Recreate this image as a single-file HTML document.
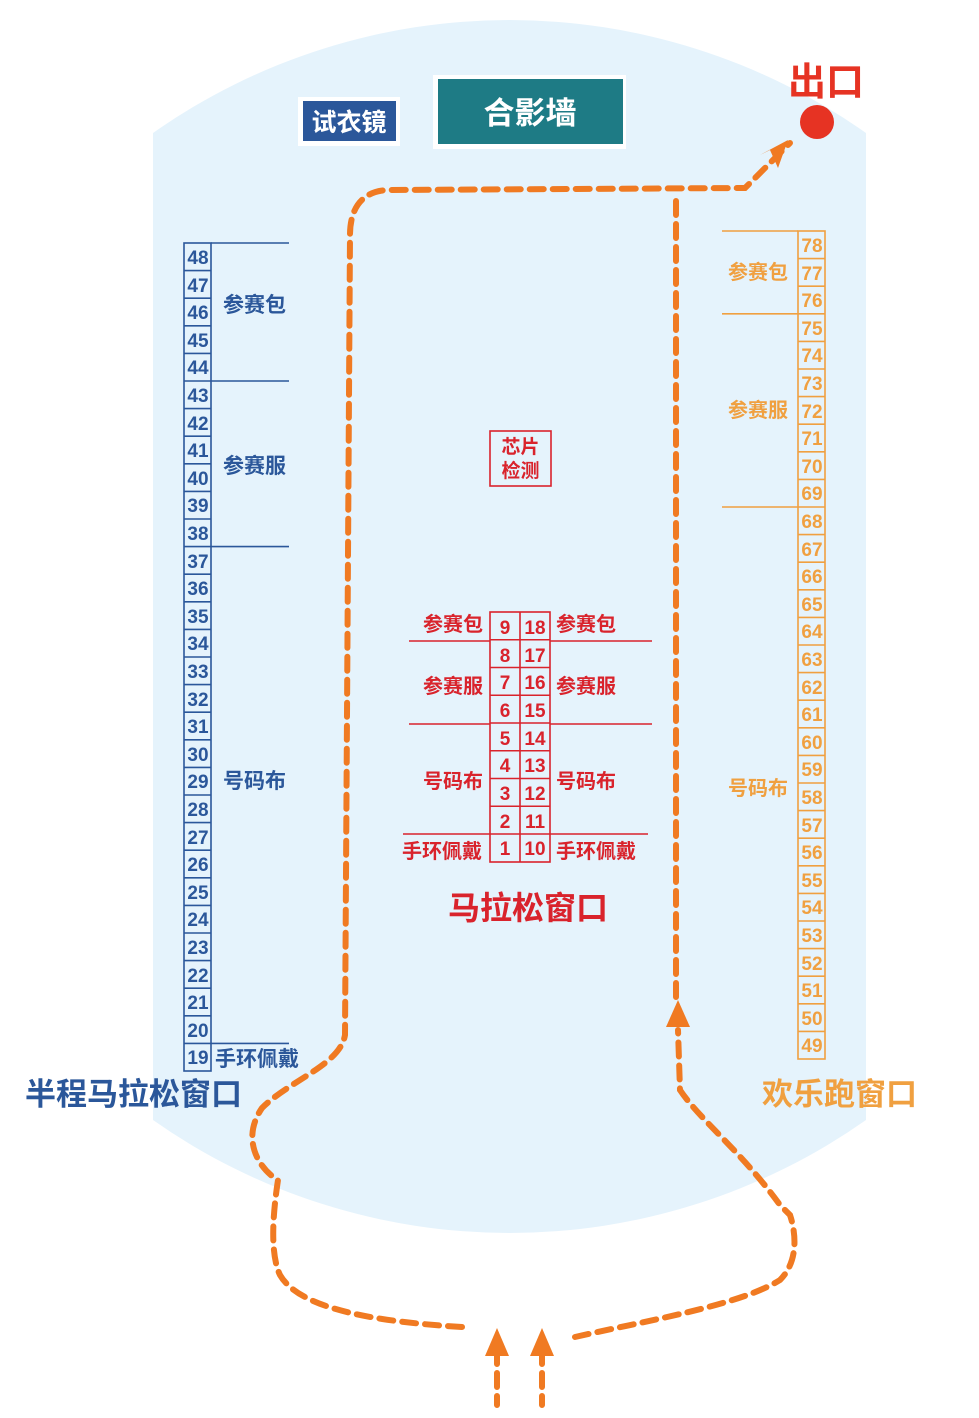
<!DOCTYPE html>
<html><head><meta charset="utf-8"><style>
html,body{margin:0;padding:0;background:#fff;}
svg{display:block;}
.bn{font-family:"Liberation Sans Narrow","Liberation Sans",sans-serif;font-weight:bold;font-size:19px;text-anchor:middle;}
.cj{font-family:"Liberation Sans","Noto Sans CJK SC",sans-serif;font-weight:bold;}
</style></head><body>
<svg width="979" height="1418" viewBox="0 0 979 1418" xmlns="http://www.w3.org/2000/svg">
<path d="M153,133 A619,619 0 0 1 866,133 L866,1120 A619,619 0 0 1 153,1120 Z" fill="#e5f3fc"/>

<!-- top boxes -->
<rect x="298" y="97" width="102" height="49" fill="#fff"/>
<rect x="303" y="101" width="93" height="40" fill="#2b579a"/>
<text x="349" y="131" class="cj" font-size="25" fill="#fff" text-anchor="middle">试衣镜</text>
<rect x="433" y="75" width="193" height="74" fill="#fff"/>
<rect x="438" y="79" width="185" height="65" fill="#1e7b85"/>
<text x="530" y="124" class="cj" font-size="31" fill="#fff" text-anchor="middle">合影墙</text>
<text x="826" y="95" class="cj" font-size="38" fill="#e63323" text-anchor="middle">出口</text>
<circle cx="817" cy="122" r="17" fill="#e63323"/>

<!-- dashed route -->
<g fill="none" stroke="#f07a22" stroke-width="6" stroke-dasharray="14 9" stroke-linecap="round">
<path d="M462,1327 C380,1322 300,1310 280,1275 C268,1250 275,1200 278,1180 C260,1170 240,1140 262,1108 C290,1080 340,1065 345,1035 L350,235 C350,205 365,190 390,190 L745,188 L790,143"/>
<path d="M676,997 L676,195"/>
<path d="M575,1337 C650,1320 740,1305 780,1280 C800,1260 795,1230 790,1215 L780,1205 C740,1150 700,1120 680,1090 L678,1030"/>
<path d="M497,1350 L497,1405"/>
<path d="M542,1350 L542,1405"/>
</g>
<g fill="#f07a22">
<polygon points="788,140 778,168 770,150 760,155"/>
<polygon points="678,1000 666,1027 690,1027"/>
<polygon points="497,1328 485,1356 509,1356"/>
<polygon points="542,1328 530,1356 554,1356"/>
</g>

<!-- left table -->
<g stroke="#2b579a" stroke-width="1.6" fill="none">
<rect x="184" y="243" width="27" height="828"/>
<line x1="211" y1="243" x2="289" y2="243"/><line x1="211" y1="381" x2="289" y2="381"/>
<line x1="211" y1="546.6" x2="289" y2="546.6"/><line x1="211" y1="1043.4" x2="289" y2="1043.4"/>
<path d="M184,270.6H211M184,298.2H211M184,325.8H211M184,353.4H211M184,381H211M184,408.6H211M184,436.2H211M184,463.8H211M184,491.4H211M184,519H211M184,546.6H211M184,574.2H211M184,601.8H211M184,629.4H211M184,657H211M184,684.6H211M184,712.2H211M184,739.8H211M184,767.4H211M184,795H211M184,822.6H211M184,850.2H211M184,877.8H211M184,905.4H211M184,933H211M184,960.6H211M184,988.2H211M184,1015.8H211M184,1043.4H211"/>
</g>
<g class="bn" fill="#2b579a">
<text x="198" y="264">48</text><text x="198" y="292">47</text><text x="198" y="319">46</text><text x="198" y="347">45</text><text x="198" y="374">44</text><text x="198" y="402">43</text><text x="198" y="430">42</text><text x="198" y="457">41</text><text x="198" y="485">40</text><text x="198" y="512">39</text><text x="198" y="540">38</text><text x="198" y="568">37</text><text x="198" y="595">36</text><text x="198" y="623">35</text><text x="198" y="650">34</text><text x="198" y="678">33</text><text x="198" y="706">32</text><text x="198" y="733">31</text><text x="198" y="761">30</text><text x="198" y="788">29</text><text x="198" y="816">28</text><text x="198" y="844">27</text><text x="198" y="871">26</text><text x="198" y="899">25</text><text x="198" y="926">24</text><text x="198" y="954">23</text><text x="198" y="982">22</text><text x="198" y="1009">21</text><text x="198" y="1037">20</text><text x="198" y="1064">19</text>
</g>
<g class="cj" fill="#2b579a" font-size="21">
<text x="223" y="312">参赛包</text><text x="223" y="473">参赛服</text><text x="223" y="788">号码布</text><text x="215" y="1066">手环佩戴</text>
</g>
<text x="25" y="1105" class="cj" font-size="31" fill="#2b579a">半程马拉松窗口</text>

<!-- right table -->
<g stroke="#f0a040" stroke-width="1.6" fill="none">
<rect x="798" y="231" width="27" height="828"/>
<line x1="722" y1="231" x2="798" y2="231"/><line x1="722" y1="313.8" x2="798" y2="313.8"/><line x1="722" y1="507" x2="798" y2="507"/>
<path d="M798,258.6H825M798,286.2H825M798,313.8H825M798,341.4H825M798,369H825M798,396.6H825M798,424.2H825M798,451.8H825M798,479.4H825M798,507H825M798,534.6H825M798,562.2H825M798,589.8H825M798,617.4H825M798,645H825M798,672.6H825M798,700.2H825M798,727.8H825M798,755.4H825M798,783H825M798,810.6H825M798,838.2H825M798,865.8H825M798,893.4H825M798,921H825M798,948.6H825M798,976.2H825M798,1003.8H825M798,1031.4H825"/>
</g>
<g class="bn" fill="#f0a040">
<text x="812" y="252">78</text><text x="812" y="280">77</text><text x="812" y="307">76</text><text x="812" y="335">75</text><text x="812" y="362">74</text><text x="812" y="390">73</text><text x="812" y="418">72</text><text x="812" y="445">71</text><text x="812" y="473">70</text><text x="812" y="500">69</text><text x="812" y="528">68</text><text x="812" y="556">67</text><text x="812" y="583">66</text><text x="812" y="611">65</text><text x="812" y="638">64</text><text x="812" y="666">63</text><text x="812" y="694">62</text><text x="812" y="721">61</text><text x="812" y="749">60</text><text x="812" y="776">59</text><text x="812" y="804">58</text><text x="812" y="832">57</text><text x="812" y="859">56</text><text x="812" y="887">55</text><text x="812" y="914">54</text><text x="812" y="942">53</text><text x="812" y="970">52</text><text x="812" y="997">51</text><text x="812" y="1025">50</text><text x="812" y="1052">49</text>
</g>
<g class="cj" fill="#f0a040" font-size="20">
<text x="728" y="279">参赛包</text><text x="728" y="417">参赛服</text><text x="728" y="795">号码布</text>
</g>
<text x="762" y="1105" class="cj" font-size="31" fill="#f0a040">欢乐跑窗口</text>

<!-- center -->
<rect x="490" y="431" width="61" height="55" fill="none" stroke="#d9232c" stroke-width="1.6"/>
<text x="520.5" y="453" class="cj" font-size="19" fill="#d9232c" text-anchor="middle">芯片</text>
<text x="520.5" y="477" class="cj" font-size="19" fill="#d9232c" text-anchor="middle">检测</text>
<g stroke="#d9232c" stroke-width="1.6" fill="none">
<rect x="490" y="612" width="60" height="250"/>
<line x1="520" y1="612" x2="520" y2="862"/>
<path d="M490,639.75H550M490,667.5H550M490,695.25H550M490,723H550M490,750.75H550M490,778.5H550M490,806.25H550M490,834H550"/>
<line x1="409" y1="641" x2="490" y2="641"/><line x1="550" y1="641" x2="652" y2="641"/>
<line x1="409" y1="724" x2="490" y2="724"/><line x1="550" y1="724" x2="652" y2="724"/>
<line x1="403" y1="834" x2="490" y2="834"/><line x1="550" y1="834" x2="648" y2="834"/>
</g>
<g class="bn" fill="#d9232c">
<text x="505" y="634">9</text><text x="505" y="662">8</text><text x="505" y="689">7</text><text x="505" y="717">6</text><text x="505" y="745">5</text><text x="505" y="772">4</text><text x="505" y="800">3</text><text x="505" y="828">2</text><text x="505" y="855">1</text>
<text x="535" y="634">18</text><text x="535" y="662">17</text><text x="535" y="689">16</text><text x="535" y="717">15</text><text x="535" y="745">14</text><text x="535" y="772">13</text><text x="535" y="800">12</text><text x="535" y="828">11</text><text x="535" y="855">10</text>
</g>
<g class="cj" fill="#d9232c" font-size="20">
<text x="423" y="631">参赛包</text><text x="556" y="631">参赛包</text>
<text x="423" y="693">参赛服</text><text x="556" y="693">参赛服</text>
<text x="423" y="788">号码布</text><text x="556" y="788">号码布</text>
<text x="402" y="858">手环佩戴</text><text x="556" y="858">手环佩戴</text>
</g>
<text x="528" y="919" class="cj" font-size="32" fill="#d9232c" text-anchor="middle">马拉松窗口</text>
</svg>
</body></html>
